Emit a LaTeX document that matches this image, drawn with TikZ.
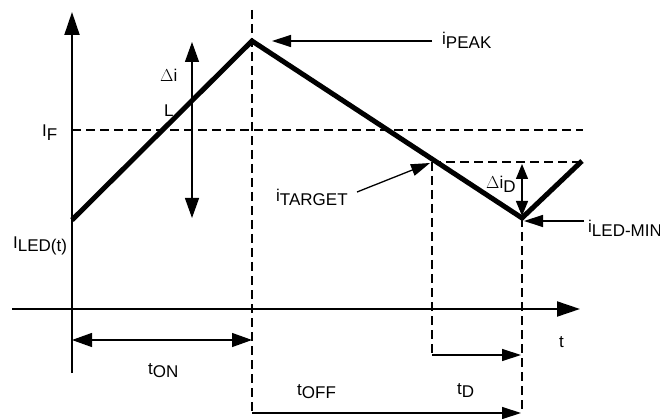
\documentclass[tikz,border=0pt]{standalone}
\usepackage{fontspec}
\setmainfont{Liberation Sans}
\usetikzlibrary{arrows.meta}
\newcommand{\lowr}[1]{\raisebox{-3.5pt}{#1}}
\begin{document}
\begin{tikzpicture}[x=1pt,y=-1pt,
  lbl/.style={font=\fontsize{17}{20}\selectfont, inner sep=0pt, anchor=base west},
  wave/.style={line width=5pt, line join=miter},
  axis/.style={line width=2pt,-{Triangle[length=23pt,width=15pt]}},
  dsh/.style={line width=2pt, dash pattern=on 9pt off 5pt},
  arr/.style={line width=1.3pt,-{Triangle[length=19pt,width=12pt]}},
  darr/.style={line width=1.3pt,{Triangle[length=20pt,width=14pt]}-{Triangle[length=20pt,width=14pt]}},
  sarr/.style={line width=1.3pt,{Triangle[length=15pt,width=12pt]}-{Triangle[length=15pt,width=12pt]}}
]
\useasboundingbox (0,0) rectangle (660,419);
% key points
\coordinate (ytop) at (72,12);
\coordinate (ybot) at (72,373);
\coordinate (xl) at (12,309);
\coordinate (xr) at (580,309);
\coordinate (start) at (72,220);
\coordinate (peak) at (252,41);
\coordinate (tgt) at (432,162);
\coordinate (min) at (522,218);
\coordinate (fin) at (582,161);
\coordinate (ifl) at (72,130);
\coordinate (ifr) at (583,130);
\coordinate (ptop) at (252,10);
\coordinate (pbot) at (252,413);
\coordinate (tgtr) at (582,162);
\coordinate (tdl) at (432,355);
\coordinate (tdr) at (521,355);
\coordinate (mbot) at (522,413);
\coordinate (toffr) at (521,413);
\coordinate (tonl) at (72,340);
\coordinate (tonr) at (252,340);
\coordinate (dit) at (192,42);
\coordinate (dib) at (192,218);
\coordinate (didt) at (522,164);
\coordinate (didb) at (522,216);
\coordinate (pktip) at (272,41);
\coordinate (pkfrom) at (432,41);
\coordinate (tgtip) at (430,163);
\coordinate (tgfrom) at (357,192);
\coordinate (mntip) at (524,221);
\coordinate (mnfrom) at (584,221);

% axes
\draw[axis] (ybot) -- (ytop);
\draw[axis] (xl) -- (xr);

% dashed guides
\draw[dsh] (ifl) -- (ifr);
\draw[dsh] (ptop) -- (pbot);
\draw[dsh] (tgt) -- (tgtr);
\draw[dsh] (tgt) -- (tdl);
\draw[dsh] (min) -- (mbot);

% waveform
\draw[wave] (start) -- (peak) -- (min) -- (fin);

% dimension arrows
\draw[darr] (tonl) -- (tonr);
\draw[arr] (pbot) -- (toffr);
\draw[arr] (tdl) -- (tdr);
\draw[darr] (dib) -- (dit);
\draw[sarr] (didb) -- (didt);

% labels
\node[lbl] (lpeak) at (442,45) {i\lowr{PEAK}};
\node[lbl] (lif) at (42,137) {I\lowr{F}};
\node[lbl] (lled) at (13,248) {I\lowr{LED(t)}};
\node[lbl] (ltgt) at (276,202) {i\lowr{TARGET}};
\node[lbl] (ldid) at (486,189) {$\Delta$i\lowr{D}};
\node[lbl] (lmin) at (588,233) {i\lowr{LED-MIN}};
\node[lbl] (ldi) at (160,82) {$\Delta$i};
\node[lbl] (ldl) at (164,117) {L};
\node[lbl] (lon) at (148,374) {t\lowr{ON}};
\node[lbl] (loff) at (297,395) {t\lowr{OFF}};
\node[lbl] (ld) at (457,394) {t\lowr{D}};
\node[lbl] (lt) at (559,347) {t};

% pointer arrows
\draw[arr] (pkfrom) -- (pktip);
\draw[arr] (tgfrom) -- (tgtip);
\draw[arr] (mnfrom) -- (mntip);
\end{tikzpicture}
\end{document}
